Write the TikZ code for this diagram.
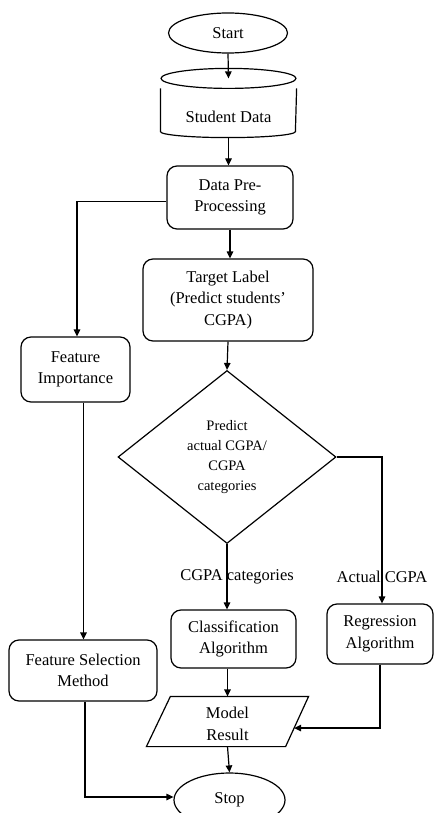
\documentclass[tikz,border=0pt]{standalone}
\usepackage{fontspec}
\setmainfont{Liberation Serif}
\usetikzlibrary{shapes.geometric,arrows.meta,calc}
\begin{document}
\begin{tikzpicture}[x=1pt,y=-1pt,
  line width=1.2pt,
  font=\fontsize{16.5}{21.5}\selectfont,
  arr/.style={-{Triangle[length=7pt,width=6.5pt]}},
  term/.style={ellipse,draw,inner sep=0pt},
  box/.style={rectangle,draw,rounded corners=10pt,align=center,inner sep=2pt},
  ghost/.style={rectangle,inner sep=0pt,align=center},
  dec/.style={diamond,draw,inner sep=0pt,align=center,font=\fontsize{14.5}{20}\selectfont},
  lbl/.style={inner sep=1pt}
]
\useasboundingbox (0,0) rectangle (434,813);

\node[term,minimum width=119pt,minimum height=40pt] (start) at (228,33) {Start};

% cylinder: Student Data
\node[ghost,minimum width=135pt,minimum height=58pt] (sd) at (228.5,108) {};
\node[ghost] (sdt) at (228.5,117) {Student Data};
\draw (sd.north) ellipse[x radius=67.5pt,y radius=10pt];
\draw ([yshift=-10pt]sd.north west) -- ([yshift=6pt]sd.south west)
      arc[start angle=180,end angle=360,x radius=67.5pt,y radius=6pt]
      -- ([yshift=-10pt]sd.north east);

\node[box,minimum width=126pt,minimum height=63pt] (dpp) at (230,197.5) {Data Pre-\\Processing};
\node[box,minimum width=170pt,minimum height=82pt] (tl) at (228,300) {Target Label\\(Predict students’\\CGPA)};
\node[box,minimum width=109pt,minimum height=65pt] (fi) at (75.5,369.5) {Feature\\Importance};
\node[dec,minimum width=218pt,minimum height=173pt] (d) at (227,457) {Predict\\actual CGPA/\\CGPA\\categories};
\node[box,minimum width=125pt,minimum height=58pt] (cls) at (233.5,639) {Classification\\Algorithm};
\node[box,minimum width=106pt,minimum height=60pt] (reg) at (380,634) {Regression\\Algorithm};
\node[box,minimum width=148pt,minimum height=61pt] (fsm) at (83,670.5) {Feature Selection\\Method};

% parallelogram: Model Result
\node[ghost,minimum width=161pt,minimum height=49pt] (mr) at (227.5,721.5) {};
\node[ghost] (mrt) at (227.5,724) {Model\\Result};
\draw (mr.south west) -- ([xshift=24pt]mr.north west) -- (mr.north east)
      -- ([xshift=-23pt]mr.south east) -- cycle;
\coordinate (mrin) at ($(mr.north east)!0.63!([xshift=-23pt]mr.south east)$);

\node[term,minimum width=111pt,minimum height=54pt] (stop) at (229.5,800) {Stop};

% connectors
\draw[arr] (start.south) -- (sd.north);
\draw[arr] (sd.south) -- (sd.south |- dpp.north);
\draw[arr] ([yshift=-4pt]dpp.west) -| ([xshift=1.5pt]fi.north);
\draw[arr] (dpp.south) -- (dpp.south |- tl.north);
\draw[arr] (tl.south) -- (d.north);
\draw[arr] (d.south) -- (d.south |- cls.north);
\draw[arr] (d.east) -| ([xshift=2pt]reg.north);
\draw[arr] ([xshift=8pt]fi.south) -- ([xshift=8pt]fi.south |- fsm.north);
\draw[arr] (cls.south -| mr.north) -- (mr.north);
\draw[arr] (reg.south) |- (mrin);
\draw[arr] (mr.south) -- (stop.north);
\draw[arr] ([xshift=2pt]fsm.south) |- ([yshift=3pt]stop.west);

\node[lbl] (l1) at (237,577) {CGPA categories};
\node[lbl] (l2) at (382,577) {Actual CGPA};
\end{tikzpicture}
\end{document}
